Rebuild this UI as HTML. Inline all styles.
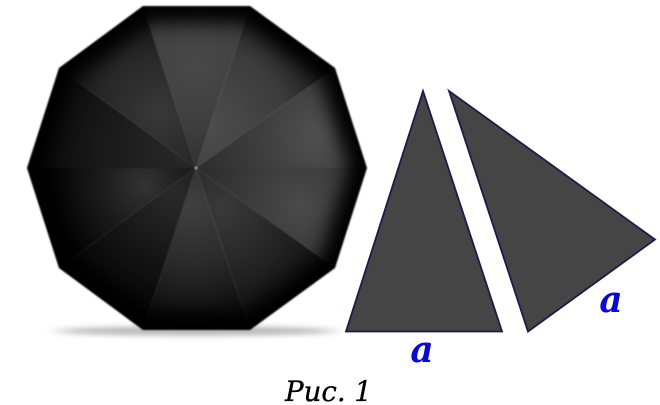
<!DOCTYPE html>
<html lang="ru">
<head>
<meta charset="utf-8">
<title>Рис. 1</title>
<style>
html,body{margin:0;padding:0;background:#fff;width:660px;height:405px;overflow:hidden}
svg{display:block}
</style>
</head>
<body>
<svg width="660" height="405" viewBox="0 0 660 405" xmlns="http://www.w3.org/2000/svg">
<defs>
<filter id="b1" x="-30%" y="-300%" width="160%" height="700%" color-interpolation-filters="sRGB"><feGaussianBlur stdDeviation="9 3"/></filter>
<filter id="b2" x="-5%" y="-5%" width="110%" height="110%" color-interpolation-filters="sRGB"><feGaussianBlur stdDeviation="0.7"/></filter>
<filter id="b3" x="-15%" y="-15%" width="130%" height="130%" color-interpolation-filters="sRGB"><feGaussianBlur stdDeviation="9"/></filter>
<clipPath id="canopy"><polygon points="143,6 250,6 335,68 367,168 335,268 250,330 143,330 59,268 27,168 59,68"/></clipPath>
<radialGradient id="p0" gradientUnits="userSpaceOnUse" cx="196" cy="65" r="110"><stop offset="0" stop-color="#484848"/><stop offset=".5" stop-color="#404040"/><stop offset="1" stop-color="#2e2e2e"/></radialGradient>
<radialGradient id="p1" gradientUnits="userSpaceOnUse" cx="212" cy="125" r="135"><stop offset="0" stop-color="#4c4c4c"/><stop offset=".55" stop-color="#3c3c3c"/><stop offset="1" stop-color="#101010"/></radialGradient>
<radialGradient id="p2" gradientUnits="userSpaceOnUse" cx="318" cy="135" r="130"><stop offset="0" stop-color="#505050"/><stop offset=".6" stop-color="#383838"/><stop offset="1" stop-color="#2c2c2c"/></radialGradient>
<radialGradient id="p3" gradientUnits="userSpaceOnUse" cx="300" cy="205" r="125"><stop offset="0" stop-color="#4a4a4a"/><stop offset=".6" stop-color="#343434"/><stop offset="1" stop-color="#262626"/></radialGradient>
<radialGradient id="p4" gradientUnits="userSpaceOnUse" cx="222" cy="208" r="125"><stop offset="0" stop-color="#3a3a3a"/><stop offset=".55" stop-color="#222"/><stop offset="1" stop-color="#0c0c0c"/></radialGradient>
<radialGradient id="p5" gradientUnits="userSpaceOnUse" cx="192" cy="205" r="120"><stop offset="0" stop-color="#404040"/><stop offset=".5" stop-color="#2a2a2a"/><stop offset="1" stop-color="#0a0a0a"/></radialGradient>
<radialGradient id="p6" gradientUnits="userSpaceOnUse" cx="175" cy="195" r="120"><stop offset="0" stop-color="#2a2a2a"/><stop offset=".5" stop-color="#161616"/><stop offset="1" stop-color="#050505"/></radialGradient>
<radialGradient id="p7" gradientUnits="userSpaceOnUse" cx="145" cy="185" r="95"><stop offset="0" stop-color="#333"/><stop offset=".55" stop-color="#171717"/><stop offset="1" stop-color="#030303"/></radialGradient>
<radialGradient id="p8" gradientUnits="userSpaceOnUse" cx="180" cy="150" r="150"><stop offset="0" stop-color="#282828"/><stop offset=".55" stop-color="#181818"/><stop offset="1" stop-color="#080808"/></radialGradient>
<radialGradient id="p9" gradientUnits="userSpaceOnUse" cx="160" cy="112" r="115"><stop offset="0" stop-color="#383838"/><stop offset=".55" stop-color="#262626"/><stop offset="1" stop-color="#080808"/></radialGradient>
</defs>

<ellipse cx="196" cy="331" rx="140" ry="4.500" fill="#b4b4b4" filter="url(#b1)"/>

<g filter="url(#b2)">
<g clip-path="url(#canopy)">
<polygon points="196,168 143,6 250,6" fill="url(#p0)"/>
<polygon points="196,168 250,6 335,68" fill="url(#p1)"/>
<polygon points="196,168 335,68 367,168" fill="url(#p2)"/>
<polygon points="196,168 367,168 335,268" fill="url(#p3)"/>
<polygon points="196,168 335,268 250,330" fill="url(#p4)"/>
<polygon points="196,168 250,330 143,330" fill="url(#p5)"/>
<polygon points="196,168 143,330 59,268" fill="url(#p6)"/>
<polygon points="196,168 59,268 27,168" fill="url(#p7)"/>
<polygon points="196,168 27,168 59,68" fill="url(#p8)"/>
<polygon points="196,168 59,68 143,6" fill="url(#p9)"/>
<polygon points="143,6 250,6 335,68 367,168 335,268 250,330 143,330 59,268 27,168 59,68" fill="none" stroke="#000" stroke-width="34" filter="url(#b3)"/>
</g>
</g>
<circle cx="196" cy="168" r="1.600" fill="#8a8a8a"/>

<polygon points="423,91 346,331.500 502,331.500" fill="#454545" stroke="#1d1b47" stroke-width="1.800" stroke-linejoin="miter"/>
<polygon points="449,91 655,239.500 528,331.500" fill="#454545" stroke="#1d1b47" stroke-width="1.800" stroke-linejoin="miter"/>

<text x="422" y="362" text-anchor="middle" font-family="'DejaVu Serif',serif" font-style="italic" font-weight="bold" font-size="36" fill="#0a0ad8">a</text>
<text x="611" y="312" text-anchor="middle" font-family="'DejaVu Serif',serif" font-style="italic" font-weight="bold" font-size="36" fill="#0a0ad8">a</text>
<text x="285" y="401" font-family="'DejaVu Serif',serif" font-style="italic" font-size="28" fill="#000" stroke="#000" stroke-width="0.300" textLength="87" lengthAdjust="spacingAndGlyphs">Рис. 1</text>
</svg>
</body>
</html>
